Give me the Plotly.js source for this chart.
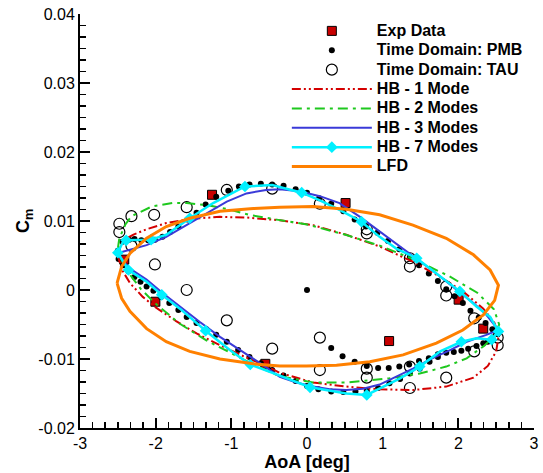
<!DOCTYPE html>
<html><head><meta charset="utf-8">
<script src="https://cdn.plot.ly/plotly-3.0.1.min.js"></script>
<style>html,body{margin:0;padding:0;background:#fff}#chart{width:543px;height:473px}</style>
</head><body><div id="chart"></div><script>
// ---- data ----
var seriesNames = ['Exp Data','Time Domain: PMB','Time Domain: TAU','HB - 1 Mode','HB - 2 Modes','HB - 3 Modes','HB - 7 Modes','LFD'];

var expX = [-1.255, 0.51, -2.415, -2.004, -0.551, 1.085, 2.004, 2.329];
var expY = [0.0138, 0.0126, 0.0044, -0.0017, -0.0107, -0.0074, -0.0014, -0.0056];

var pmbX = [-2.50,-2.44,-2.35,-2.28,-2.19,-2.10,-2.01,-1.91,-1.81,-1.70,-1.58,-1.46,-1.34,-1.20,-1.04,-0.90,-0.76,-0.61,-0.46,-0.31,-0.15,0.00,0.16,0.32,0.48,0.63,0.78,0.93,1.07,1.22,1.36,1.48,1.61,1.73,1.84,1.95,2.06,2.16,2.27,2.36,2.45,2.52,
  2.46,2.39,2.33,2.24,2.13,2.04,1.94,1.84,1.73,1.62,1.49,1.36,1.23,1.09,0.94,0.79,0.64,0.48,0.32,0.15,0.00,-0.15,-0.31,-0.46,-0.61,-0.76,-0.91,-1.06,-1.20,-1.33,-1.46,-1.59,-1.70,-1.82,-1.93,-2.03,-2.12,-2.20,-2.28,-2.36,-2.43,-2.49,
  0.00,0.32,0.47,0.63,0.79,0.94,1.08,1.22,1.35,1.48,1.61,1.73];
var pmbY = [0.0057,0.0070,0.0073,0.0074,0.0072,0.0072,0.0073,0.0077,0.0084,0.0092,0.0102,0.0112,0.0124,0.0135,0.0144,0.0150,0.0153,0.0154,0.0153,0.0151,0.0146,0.0141,0.0133,0.0125,0.0114,0.0102,0.0092,0.0083,0.0071,0.0059,0.0048,0.0036,0.0024,0.0013,0.0001,-0.0009,-0.0019,-0.0030,-0.0040,-0.0048,-0.0057,-0.0064,
  -0.0072,-0.0075,-0.0077,-0.0081,-0.0085,-0.0088,-0.0090,-0.0091,-0.0097,-0.0104,-0.0114,-0.0121,-0.0129,-0.0135,-0.0142,-0.0146,-0.0147,-0.0148,-0.0147,-0.0144,-0.0139,-0.0132,-0.0124,-0.0116,-0.0106,-0.0097,-0.0087,-0.0075,-0.0065,-0.0057,-0.0048,-0.0039,-0.0029,-0.0019,-0.0010,-0.0001,0.0005,0.0012,0.0019,0.0027,0.0036,0.0045,
  0.0000,-0.0084,-0.0096,-0.0104,-0.0110,-0.0113,-0.0113,-0.0111,-0.0108,-0.0103,-0.0099,-0.0093];

var tauX = [-2.48,-2.48,-2.32,-2.02,-1.59,-1.06,-0.46,-2.32,-2.01,-1.59,-1.06,-0.46,0.17,0.17,0.17,0.79,0.79,0.79,0.79,1.36,1.36,1.36,1.36,1.84,1.84,1.84,2.21,2.21,2.52,2.52];
var tauY = [0.0096,0.0084,0.0107,0.0109,0.0120,0.0145,0.0147,0.0064,0.0037,0.0000,-0.0044,-0.0085,0.0125,-0.0069,-0.0116,0.0088,0.0082,-0.0114,-0.0127,0.0046,0.0034,-0.0111,-0.0142,0.0005,-0.0008,-0.0127,-0.0041,-0.0089,-0.0069,-0.0080];

var hb1X = [-2.50,-2.46,-2.40,-2.30,-2.12,-1.86,-1.55,-1.15,-0.80,-0.36,0.08,0.52,0.96,1.40,1.76,2.06,2.33,2.48,2.53,2.50,2.39,2.20,1.84,1.40,0.96,0.52,0.08,-0.36,-0.54,-0.84,-1.15,-1.46,-1.73,-1.99,-2.17,-2.34,-2.45,-2.50];
var hb1Y = [0.0050,0.0066,0.0074,0.0080,0.0088,0.0097,0.0103,0.0106,0.0105,0.0101,0.0094,0.0080,0.0063,0.0041,0.0019,-0.0002,-0.0027,-0.0048,-0.0068,-0.0089,-0.0110,-0.0127,-0.0140,-0.0145,-0.0144,-0.0140,-0.0134,-0.0120,-0.0110,-0.0096,-0.0080,-0.0063,-0.0045,-0.0026,-0.0010,0.0010,0.0030,0.0050];

var hb2X = [-2.50,-2.48,-2.40,-2.32,-2.05,-1.78,-1.59,-1.32,-1.04,-0.77,-0.40,0.00,0.51,0.97,1.42,1.88,2.25,2.47,2.54,2.48,2.34,2.11,1.84,1.49,1.09,0.52,0.08,-0.36,-0.71,-1.02,-1.33,-1.68,-2.01,-2.20,-2.36,-2.46,-2.50];
var hb2Y = [0.0060,0.0075,0.0095,0.0107,0.0121,0.0126,0.0126,0.0123,0.0117,0.0109,0.0102,0.0095,0.0080,0.0064,0.0044,0.0020,-0.0004,-0.0028,-0.0050,-0.0066,-0.0081,-0.0099,-0.0111,-0.0121,-0.0128,-0.0134,-0.0134,-0.0125,-0.0108,-0.0091,-0.0073,-0.0049,-0.0019,0.0002,0.0025,0.0045,0.0060];

var hb3X = [-2.52,-2.34,-2.12,-1.86,-1.59,-1.33,-1.06,-0.80,-0.54,-0.36,-0.10,0.17,0.43,0.70,0.96,1.23,1.45,1.71,1.98,2.20,2.37,2.53,2.37,2.11,1.89,1.62,1.40,1.18,0.96,0.74,0.52,0.30,0.08,-0.14,-0.36,-0.62,-0.89,-1.15,-1.42,-1.68,-1.90,-2.12,-2.34,-2.52];
var hb3Y = [0.0053,0.0058,0.0065,0.0077,0.0094,0.0111,0.0128,0.0140,0.0145,0.0146,0.0143,0.0136,0.0126,0.0106,0.0085,0.0063,0.0046,0.0024,0.0000,-0.0019,-0.0036,-0.0058,-0.0065,-0.0075,-0.0087,-0.0101,-0.0114,-0.0126,-0.0137,-0.0143,-0.0145,-0.0144,-0.0140,-0.0134,-0.0126,-0.0106,-0.0087,-0.0068,-0.0046,-0.0024,-0.0005,0.0015,0.0031,0.0053];

var hb7X = [-2.50,-2.44,-2.39,-2.06,-1.86,-1.55,-1.24,-0.82,-0.46,-0.07,0.17,0.43,0.72,0.96,1.18,1.45,1.71,2.02,2.24,2.42,2.53,2.44,2.24,2.04,1.76,1.49,1.23,0.96,0.79,0.52,0.04,-0.36,-0.75,-1.02,-1.34,-1.68,-1.92,-2.12,-2.36,-2.50];
var hb7Y = [0.0054,0.0068,0.0072,0.0073,0.0080,0.0104,0.0126,0.0150,0.0152,0.0141,0.0130,0.0116,0.0099,0.0077,0.0060,0.0046,0.0024,-0.0002,-0.0024,-0.0039,-0.0060,-0.0072,-0.0070,-0.0075,-0.0089,-0.0111,-0.0128,-0.0142,-0.0152,-0.0150,-0.0141,-0.0124,-0.0108,-0.0087,-0.0059,-0.0027,-0.0007,0.0012,0.0029,0.0054];
var hb7DiamondX = [-2.50,-2.39,-2.06,-1.55,-0.82,-0.07,0.72,1.45,2.02,2.53,2.44,2.04,1.49,0.79,0.04,-0.75,-1.34,-1.92,-2.36];
var hb7DiamondY = [0.0054,0.0072,0.0073,0.0104,0.0150,0.0141,0.0099,0.0046,-0.0002,-0.0060,-0.0072,-0.0075,-0.0111,-0.0152,-0.0141,-0.0108,-0.0059,-0.0007,0.0029];

var lfdX = [-2.51,-2.45,-2.34,-2.12,-1.86,-1.55,-1.15,-0.71,-0.36,0.08,0.52,0.96,1.40,1.84,2.20,2.42,2.53,2.48,2.33,2.06,1.71,1.27,0.83,0.39,-0.01,-0.36,-0.71,-1.15,-1.55,-1.86,-2.12,-2.34,-2.45,-2.51];
var lfdY = [0.0010,0.0034,0.0053,0.0075,0.0092,0.0104,0.0114,0.0118,0.0120,0.0121,0.0117,0.0109,0.0094,0.0075,0.0051,0.0029,0.0007,-0.0015,-0.0036,-0.0058,-0.0077,-0.0094,-0.0104,-0.0109,-0.0110,-0.0110,-0.0107,-0.0100,-0.0089,-0.0075,-0.0056,-0.0031,-0.0012,0.0010];

var xTickVals = [-3,-2,-1,0,1,2,3];
var xTickText = ['-3','-2','-1','0','1','2','3'];
var yTickVals = [-0.02,-0.01,0,0.01,0.02,0.03,0.04];
var yTickText = ['-0.02','-0.01','0','0.01','0.02','0.03','0.04'];

// ---- styling ----
var FONT = 'Liberation Sans, Arial, Helvetica, sans-serif';
function lname(s){ return '<span style="font-size:16px"><b>' + s + '</b></span>'; }
var cRed = '#d40000', cGreen = '#1ec81e', cBlue = '#3a3ad8', cCyan = '#00f0ff', cOrange = '#ff8000', cExp = '#c80000';

var traces = [
  {x: expX, y: expY, mode: 'markers', name: lname(seriesNames[0]), legendrank: 1,
   marker: {symbol: 'square', size: 9, color: cExp, line: {color: '#000', width: 1}}},
  {x: pmbX, y: pmbY, mode: 'markers', name: lname(seriesNames[1]), legendrank: 2,
   marker: {symbol: 'circle', size: 6, color: '#000'}},
  {x: tauX, y: tauY, mode: 'markers', name: lname(seriesNames[2]), legendrank: 3,
   marker: {symbol: 'circle-open', size: 11, color: '#000', line: {width: 1.2}}},
  {x: hb1X, y: hb1Y, mode: 'lines', name: lname(seriesNames[3]), legendrank: 4,
   line: {color: cRed, width: 2, dash: '9px,3px,2px,3px,2px,3px'}},
  {x: hb2X, y: hb2Y, mode: 'lines', name: lname(seriesNames[4]), legendrank: 5,
   line: {color: cGreen, width: 2, dash: '10px,5px,3px,5px'}},
  {x: hb3X, y: hb3Y, mode: 'lines', name: lname(seriesNames[5]), legendrank: 6,
   line: {color: cBlue, width: 2}},
  {x: hb7X, y: hb7Y, mode: 'lines', name: lname(seriesNames[6]), showlegend: false, legendgroup: 'hb7',
   line: {color: cCyan, width: 2.5}},
  {x: hb7DiamondX, y: hb7DiamondY, mode: 'markers', name: lname(seriesNames[6]), showlegend: false, legendgroup: 'hb7',
   marker: {symbol: 'diamond', size: 9, color: cCyan}},
  {x: [null], y: [null], mode: 'lines+markers', name: lname(seriesNames[6]), legendrank: 7, legendgroup: 'hb7',
   line: {color: cCyan, width: 2.5}, marker: {symbol: 'diamond', size: 9, color: cCyan}},
  {x: lfdX, y: lfdY, mode: 'lines', name: lname(seriesNames[7]), legendrank: 8,
   line: {color: cOrange, width: 3}}
];

var axisCommon = {
  showgrid: false, zeroline: false, showline: true, linecolor: '#000', linewidth: 2,
  ticks: 'inside', ticklen: 10, tickwidth: 2, tickcolor: '#000', mirror: false,
  tickfont: {family: FONT, size: 16, color: '#000'}, automargin: false
};

var layout = {
  width: 543, height: 473,
  margin: {l: 80, r: 9, t: 14, b: 45, pad: 0},
  paper_bgcolor: '#fff', plot_bgcolor: '#fff',
  font: {family: FONT, color: '#000'},
  showlegend: true,
  legend: {x: 0.4556, y: 0.9947, xanchor: 'left', yanchor: 'top', bgcolor: 'rgba(0,0,0,0)',
    borderwidth: 0, itemwidth: 80, font: {family: FONT, size: 12.6, color: '#000'},
    traceorder: 'normal', tracegroupgap: 0, itemclick: false},
  xaxis: Object.assign({}, axisCommon, {
    range: [-3, 3], tickmode: 'array', tickvals: xTickVals, ticktext: xTickText,
    minor: {dtick: 1/6, ticks: 'inside', ticklen: 6, tickwidth: 1.5, tickcolor: '#000', showgrid: false},
    title: {text: '<b>AoA [deg]</b>', font: {family: FONT, size: 18, color: '#000'}, standoff: 0}
  }),
  yaxis: Object.assign({}, axisCommon, {
    range: [-0.02, 0.04], tickmode: 'array', tickvals: yTickVals, ticktext: yTickText,
    minor: {dtick: 0.01/6, ticks: 'inside', ticklen: 6, tickwidth: 1.5, tickcolor: '#000', showgrid: false},
    title: {text: '<b>C<sub>m</sub></b>', font: {family: FONT, size: 18, color: '#000'}, standoff: 4}
  })
};

Plotly.newPlot('chart', traces, layout, {staticPlot: true, displayModeBar: false});
</script></body></html>
